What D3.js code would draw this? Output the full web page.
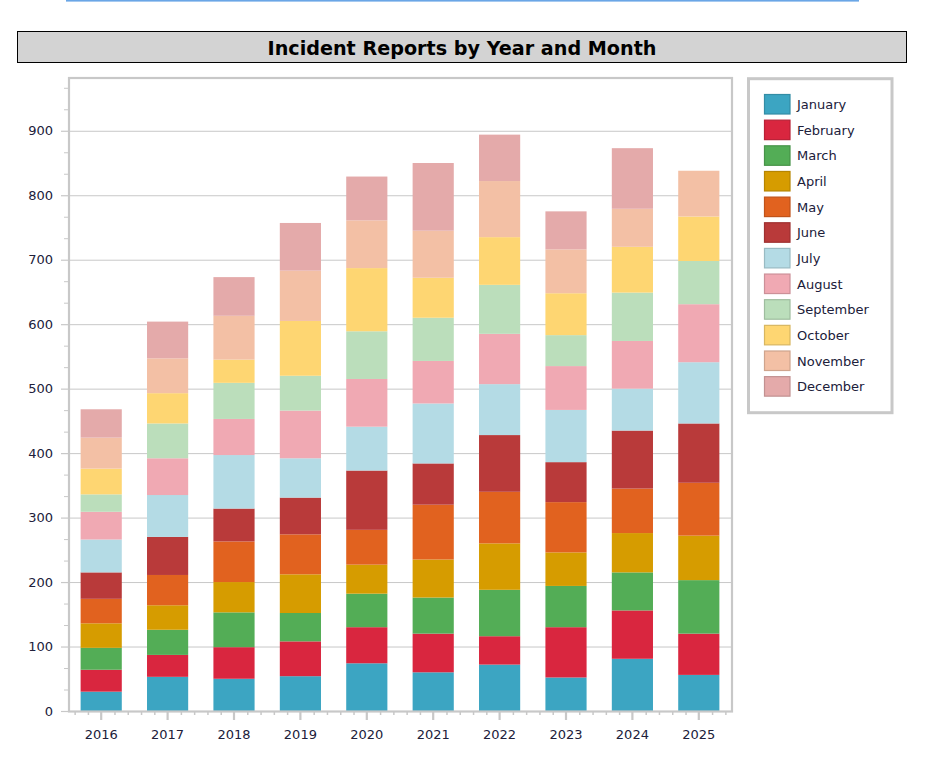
<!DOCTYPE html>
<html>
<head>
<meta charset="utf-8">
<script src="https://cdn.jsdelivr.net/npm/d3@7"></script>
<style>
  body { margin: 0; background: #ffffff; }
  svg { display: block; }
</style>
</head>
<body>
<svg id="chart" width="939" height="762"></svg>
<script>
// ---------- data ----------
const years = ["2016", "2017", "2018", "2019", "2020", "2021", "2022", "2023", "2024", "2025"];
const months = ["January", "February", "March", "April", "May", "June",
                "July", "August", "September", "October", "November", "December"];

const january   = [30, 53, 50, 54, 74, 60, 72, 52, 81, 56];
const february  = [34, 34, 49, 54, 56, 60, 44, 78, 75, 64];
const march     = [34, 39, 54, 44, 52, 56, 72, 64, 59, 83];
const april     = [38, 38, 47, 60, 45, 59, 72, 52, 61, 69];
const may       = [38, 47, 63, 62, 54, 85, 80, 78, 69, 82];
const june      = [41, 59, 51, 57, 92, 64, 88, 62, 90, 92];
const july      = [51, 65, 83, 61, 68, 93, 79, 81, 65, 95];
const august    = [43, 57, 56, 74, 74, 66, 78, 68, 74, 90];
const september = [27, 54, 56, 54, 74, 67, 76, 48, 75, 67];
const october   = [40, 47, 36, 85, 98, 62, 74, 65, 71, 69];
const november  = [48, 54, 68, 78, 74, 73, 87, 68, 59, 71];
const december  = [44, 57, 60, 74, 68, 105, 72, 59, 94, 0];

const yTickValues = [0, 100, 200, 300, 400, 500, 600, 700, 800, 900];
const titleText = "Incident Reports by Year and Month";

const seriesValues = [january, february, march, april, may, june,
                      july, august, september, october, november, december];

const colors = ["#3ca5c2", "#d9263f", "#53ad56", "#d69c00", "#e1621f", "#b93a3a",
                "#b4dbe5", "#f0a9b3", "#bbdebb", "#fed672", "#f3c0a5", "#e4aaaa"];

// ---------- build table ----------
const table = years.map((yr, i) => {
  const row = { year: yr };
  months.forEach((m, j) => { row[m] = seriesValues[j][i]; });
  return row;
});
const stacked = d3.stack().keys(months)(table);
const totals = table.map(r => d3.sum(months, m => r[m]));
const yMax = d3.max(totals) * 1.1;

// ---------- layout ----------
const svg = d3.select("#chart");
const plot = { left: 68, right: 732, top: 77, bottom: 711 };
const gridColor = "#c8c8c8";
const textColor = "#20203a";

// top accent line
svg.append("rect").attr("x", 66).attr("y", 0).attr("width", 793).attr("height", 1.6)
  .attr("fill", "#6aa6e6");

// title box
svg.append("rect").attr("x", 17.5).attr("y", 31.5).attr("width", 889).attr("height", 31)
  .attr("fill", "#d3d3d3").attr("stroke", "#000").attr("stroke-width", 1);
svg.append("text").attr("x", 462).attr("y", 55)
  .attr("text-anchor", "middle")
  .attr("font-family", "'DejaVu Sans', Verdana, sans-serif")
  .attr("font-weight", "bold").attr("font-size", 19)
  .attr("textLength", 389).attr("lengthAdjust", "spacingAndGlyphs")
  .attr("fill", "#000").text(titleText);

// scales
const x = d3.scaleBand().domain(years).range([plot.left, plot.right])
  .paddingInner(0.38).paddingOuter(0.19);
const y = d3.scaleLinear().domain([0, yMax]).range([plot.bottom, plot.top]);
const xIdx = d3.scaleLinear().domain([-0.5, years.length - 0.5]).range([plot.left, plot.right]);

// gridlines
svg.append("g").attr("transform", `translate(${plot.left},0)`)
  .call(d3.axisLeft(y).tickValues(yTickValues.slice(1)).tickSize(-(plot.right - plot.left)).tickFormat(""))
  .call(g => g.select(".domain").remove())
  .call(g => g.selectAll("line").attr("stroke", gridColor).attr("stroke-width", 1));

// minor y ticks (thirds)
const yMinor = d3.range(0, yMax, 100 / 3).filter((v, i) => i % 3 !== 0);
svg.append("g").attr("transform", `translate(${plot.left},0)`)
  .call(d3.axisLeft(y).tickValues(yMinor).tickSize(4).tickFormat(""))
  .call(g => g.select(".domain").remove())
  .call(g => g.selectAll("line").attr("stroke", gridColor).attr("stroke-width", 1));

// major y ticks + labels
svg.append("g").attr("transform", `translate(${plot.left},0)`)
  .call(d3.axisLeft(y).tickValues(yTickValues).tickSize(7).tickPadding(8).tickFormat(d3.format("d")))
  .call(g => g.select(".domain").remove())
  .call(g => g.selectAll("line").attr("stroke", gridColor).attr("stroke-width", 1.2))
  .call(g => g.selectAll("text").attr("fill", textColor)
    .attr("font-family", "'DejaVu Sans', Verdana, sans-serif").attr("font-size", 13));

// bars
svg.append("g").selectAll("g").data(stacked).join("g")
  .attr("fill", (d, i) => colors[i])
  .selectAll("rect").data(d => d).join("rect")
  .attr("x", d => x(d.data.year))
  .attr("width", x.bandwidth())
  .attr("y", d => y(d[1]))
  .attr("height", d => Math.max(0, y(d[0]) - y(d[1])));

// x minor ticks
const xMinor = d3.range(-0.4, years.length - 0.5, 0.2)
  .filter(v => Math.abs(v - Math.round(v)) > 0.01);
svg.append("g").attr("transform", `translate(0,${plot.bottom})`)
  .call(d3.axisBottom(xIdx).tickValues(xMinor).tickSize(4).tickFormat(""))
  .call(g => g.select(".domain").remove())
  .call(g => g.selectAll("line").attr("stroke", gridColor).attr("stroke-width", 1.5));

// x major ticks + labels
svg.append("g").attr("transform", `translate(0,${plot.bottom})`)
  .call(d3.axisBottom(x).tickSize(9).tickPadding(10))
  .call(g => g.select(".domain").remove())
  .call(g => g.selectAll("line").attr("stroke", gridColor).attr("stroke-width", 2.2))
  .call(g => g.selectAll("text").attr("fill", textColor)
    .attr("font-family", "'DejaVu Sans', Verdana, sans-serif").attr("font-size", 13));

// plot frame
svg.append("rect").attr("x", plot.left + 1).attr("y", plot.top + 1)
  .attr("width", plot.right - plot.left - 1).attr("height", plot.bottom - plot.top - 0.5)
  .attr("fill", "none").attr("stroke", gridColor).attr("stroke-width", 2.2);

// legend
const lg = svg.append("g");
lg.append("rect").attr("x", 748.5).attr("y", 78.7).attr("width", 143.5).attr("height", 334)
  .attr("fill", "#fff").attr("stroke", gridColor).attr("stroke-width", 3);
const rowH = 25.65;
const items = lg.selectAll("g.item").data(months).join("g").attr("class", "item")
  .attr("transform", (d, i) => `translate(0,${94 + i * rowH})`);
items.append("rect").attr("x", 764.5).attr("y", 0.5).attr("width", 25.5).attr("height", 19.5)
  .attr("fill", (d, i) => colors[i])
  .attr("stroke", (d, i) => d3.color(colors[i]).darker(0.45).formatHex())
  .attr("stroke-width", 1.2);
items.append("text").attr("x", 797).attr("y", 10.5).attr("dy", "0.35em")
  .attr("font-family", "'DejaVu Sans', Verdana, sans-serif").attr("font-size", 13)
  .attr("fill", textColor).text(d => d);
</script>
</body>
</html>
